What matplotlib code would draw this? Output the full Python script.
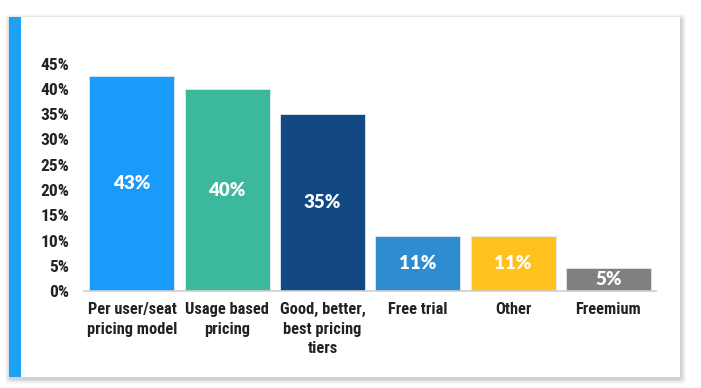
import matplotlib
matplotlib.use("Agg")
import matplotlib.pyplot as plt
from matplotlib import font_manager
from matplotlib.patches import Rectangle, FancyBboxPatch

categories = ["Per user/seat\npricing model", "Usage based\npricing",
              "Good, better,\nbest pricing\ntiers", "Free trial", "Other", "Freemium"]
values = [42.6, 39.9, 35.0, 10.9, 10.9, 4.7]
bar_colors = ["#1A9AFB", "#3CB89D", "#124884", "#2F8DCF", "#FFC11E", "#808080"]
y_ticks = [0, 5, 10, 15, 20, 25, 30, 35, 40, 45]
y_tick_labels = [f"{t}%" for t in y_ticks]

available = {f.name for f in font_manager.fontManager.ttflist}
cond_font = "DejaVu Sans"
for cand in ["Roboto Condensed", "Liberation Sans Narrow", "Open Sans Condensed",
             "DejaVu Sans Condensed", "Roboto", "Liberation Sans"]:
    if cand in available:
        cond_font = cand
        break
label_font = "Lato" if "Lato" in available else "DejaVu Sans"

W, H = 701, 388
fig = plt.figure(figsize=(W / 100, H / 100), dpi=100)
fig.patch.set_facecolor("white")

# card with soft shadow
bg = fig.add_axes([0, 0, 1, 1])
bg.set_xlim(0, W)
bg.set_ylim(H, 0)
bg.axis("off")
cx0, cy0, cx1, cy1 = 9, 17, 680, 377
for i, a in enumerate([0.025, 0.03, 0.035, 0.04, 0.05]):
    g = 6 - i
    bg.add_patch(FancyBboxPatch((cx0 - g + 2, cy0 - g + 3), (cx1 - cx0) + 2 * g - 2, (cy1 - cy0) + 2 * g - 2,
                                boxstyle="round,pad=0,rounding_size=4", facecolor="black",
                                edgecolor="none", alpha=a))
bg.add_patch(Rectangle((cx0, cy0), cx1 - cx0, cy1 - cy0, facecolor="white", edgecolor="none"))
bg.add_patch(Rectangle((cx0, cy0), 11.5, cy1 - cy0, facecolor="#1EA0F7", edgecolor="none"))

ax = fig.add_axes([84.3 / W, (H - 291.3) / H, 571.7 / W, 227.7 / H])
ax.set_facecolor("none")
x = list(range(len(categories)))
bars = ax.bar(x, values, width=0.893, color=bar_colors, edgecolor="#dfe8f0", linewidth=0.6, zorder=2)
ax.set_xlim(-0.5, len(categories) - 0.5)
ax.set_ylim(0, 45)
ax.set_yticks(y_ticks)
ax.set_yticklabels(y_tick_labels, fontfamily=cond_font, fontweight="bold", fontsize=12.5, color="#222222")
ax.set_xticks(x)
ax.set_xticklabels(categories, fontfamily=cond_font, fontweight="bold", fontsize=11.8,
                   color="#222222", linespacing=1.36, va="top")
ax.tick_params(axis="y", length=0, pad=11)
ax.tick_params(axis="x", length=0, pad=8)
for s in ["top", "right", "left"]:
    ax.spines[s].set_visible(False)
ax.spines["bottom"].set_color("#cfcfcf")
ax.spines["bottom"].set_linewidth(1.2)

for xi, v in zip(x, values):
    ax.text(xi, v / 2, f"{round(v)}%", ha="center", va="center", color="white",
            fontfamily=label_font, fontweight="heavy", fontsize=13.5, zorder=3)

fig.savefig("out.png", dpi=100, facecolor="white")
